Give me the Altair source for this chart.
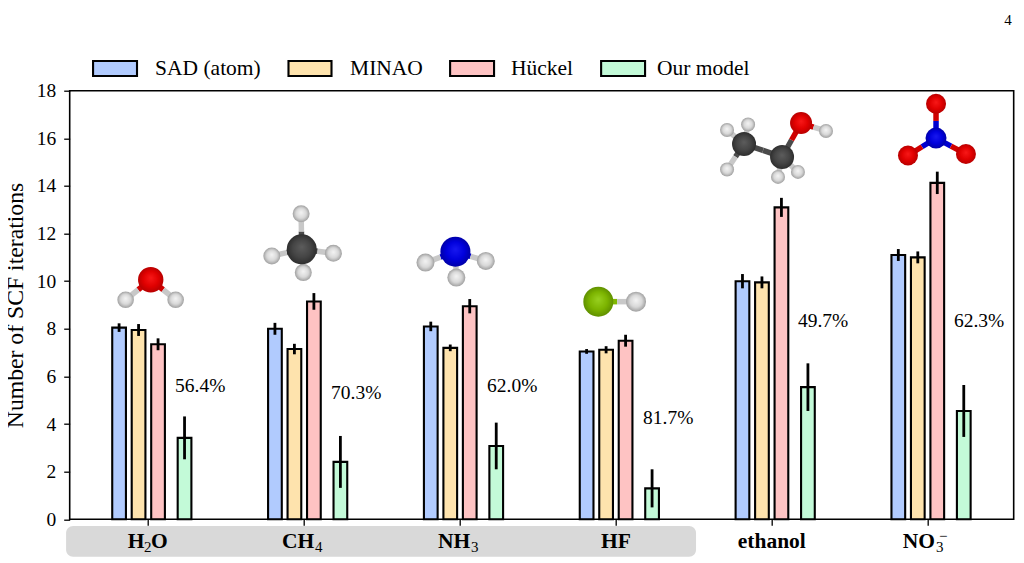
import altair as alt
import pandas as pd

FONT = "Liberation Serif"
molecules = ["H2O", "CH4", "NH3", "HF", "ethanol", "NO3-"]
methods = ["SAD (atom)", "MINAO", "Hückel", "Our model"]
colors = ["#b1cbfe", "#fee3ad", "#fec3c3", "#c3fad8"]

# bar values and half-length of error bars, per method
sad = [8.05, 8.0, 8.1, 7.05, 10.0, 11.1]
sad_err = [0.18, 0.25, 0.2, 0.1, 0.3, 0.25]
minao = [7.95, 7.15, 7.2, 7.12, 9.95, 11.0]
minao_err = [0.25, 0.22, 0.14, 0.15, 0.25, 0.25]
huckel = [7.35, 9.15, 8.95, 7.5, 13.1, 14.13]
huckel_err = [0.25, 0.35, 0.3, 0.25, 0.4, 0.47]
ours = [3.42, 2.41, 3.08, 1.3, 5.55, 4.55]
ours_err = [0.9, 1.09, 0.98, 0.8, 1.0, 1.09]
series = [(sad, sad_err), (minao, minao_err), (huckel, huckel_err), (ours, ours_err)]

# bar centre offsets from the group centre (group units), and bar width
offsets = [-0.186, -0.061, 0.064, 0.234]
bar_w = 0.088

pct_text = ["56.4%", "70.3%", "62.0%", "81.7%", "49.7%", "62.3%"]
pct_x = [0.173, 1.174, 2.175, 3.176, 4.170, 5.171]
pct_y = [5.6, 5.3, 5.6, 4.25, 8.33, 8.33]

bars = []
errs = []
for m, off, (vals, es) in zip(methods, offsets, series):
    for i, (v, e) in enumerate(zip(vals, es)):
        c = i + off
        bars.append(dict(method=m, x=c - bar_w / 2, x2=c + bar_w / 2, y=v))
        errs.append(dict(x=c, y=v - e, y2=v + e))
bars = pd.DataFrame(bars)
errs = pd.DataFrame(errs)
pcts = pd.DataFrame(dict(t=pct_text, x=pct_x, y=pct_y))

X_DOM = [-0.5029, 5.5543]
x_scale = alt.Scale(domain=X_DOM, nice=False, zero=False)
y_scale = alt.Scale(domain=[0, 18], nice=False)
color = alt.Color("method:N", scale=alt.Scale(domain=methods, range=colors), legend=None)

x_enc = alt.X("x:Q", scale=x_scale,
              axis=alt.Axis(values=list(range(6)), labels=False, title=None, grid=False,
                            tickColor="black", tickSize=6, tickWidth=1.3,
                            domain=False))
y_enc = alt.Y("y:Q", scale=y_scale,
              axis=alt.Axis(values=list(range(0, 19, 2)), title="Number of SCF iterations",
                            grid=False, tickColor="black", tickSize=6, tickWidth=1.3,
                            domain=False, labelFont=FONT, labelFontSize=19.5,
                            labelColor="black", labelPadding=8,
                            titleFont=FONT, titleFontSize=23.7, titleFontWeight="normal",
                            titleColor="black", titleX=-42.5, titleY=214.3))

# grey band behind the first four labels
band = pd.DataFrame(dict(x=[-0.526], x2=[3.516], y=[-0.281], y2=[-1.57]))
band_l = alt.Chart(band).mark_rect(fill="#d9d9d9", cornerRadius=7).encode(
    x=x_enc, x2="x2:Q", y=y_enc, y2="y2:Q")

bar_l = alt.Chart(bars).mark_bar(stroke="black", strokeWidth=2.1).encode(
    x=x_enc, x2="x2:Q", y=y_enc, y2=alt.Y2(datum=0), color=color)
err_l = alt.Chart(errs).mark_rule(color="black", strokeWidth=2.8).encode(
    x=alt.X("x:Q", scale=x_scale), y=alt.Y("y:Q", scale=y_scale), y2="y2:Q")
pct_l = alt.Chart(pcts).mark_text(font=FONT, fontSize=19.5, align="left", baseline="middle",
                                  color="black").encode(
    x=alt.X("x:Q", scale=x_scale), y=alt.Y("y:Q", scale=y_scale), text="t:N")

# legend, set out by hand to keep its uneven spacing
leg_x = [-0.353, 0.901, 1.938, 2.907]
leg_x2 = [-0.071, 1.177, 2.220, 3.189]
leg_tx = [0.045, 1.296, 2.329, 3.266]
leg = pd.DataFrame(dict(method=methods, x=leg_x, x2=leg_x2, y=[19.25] * 4, y2=[18.62] * 4,
                        tx=leg_tx, ty=[18.93] * 4))
leg_rect = alt.Chart(leg).mark_rect(stroke="black", strokeWidth=2.1).encode(
    x=alt.X("x:Q", scale=x_scale), x2="x2:Q",
    y=alt.Y("y:Q", scale=y_scale), y2="y2:Q", color=color)
leg_text = alt.Chart(leg).mark_text(font=FONT, fontSize=21.5, align="left", baseline="middle",
                                    color="black").encode(
    x=alt.X("tx:Q", scale=x_scale), y=alt.Y("ty:Q", scale=y_scale), text="method:N")

# x labels, with sub- and superscripts as separate pieces
main_t = ["H", "O", "CH", "NH", "HF", "ethanol", "NO"]
main_x = [-0.130, 0.019, 0.860, 1.861, 2.906, 3.784, 4.842]
sub_t = ["2", "4", "3", "3"]
sub_x = [-0.026, 1.071, 2.072, 5.056]
main_y = -1.205
sub_y = -1.373
main_df = pd.DataFrame(dict(t=main_t, x=main_x, y=[main_y] * len(main_t)))
sub_df = pd.DataFrame(dict(t=sub_t + ["−"], x=sub_x + [5.075], y=[sub_y] * 4 + [-0.91]))
main_l = alt.Chart(main_df).mark_text(font=FONT, fontSize=21.5, fontWeight="bold", align="left",
                                      baseline="alphabetic", color="black").encode(
    x=alt.X("x:Q", scale=x_scale), y=alt.Y("y:Q", scale=y_scale), text="t:N")
sub_l = alt.Chart(sub_df).mark_text(font=FONT, fontSize=15, align="left",
                                    baseline="alphabetic", color="black").encode(
    x=alt.X("x:Q", scale=x_scale), y=alt.Y("y:Q", scale=y_scale), text="t:N")

# ball-and-stick molecules
atoms = [
    ("O", 0.017, 10.06, 12.7), ("H", -0.144, 9.22, 8.3), ("H", 0.177, 9.22, 8.3),
    ("C", 0.986, 11.34, 15), ("H", 0.982, 12.83, 8.5), ("H", 0.794, 11.06, 8.5),
    ("H", 1.189, 11.17, 8.5), ("H", 0.996, 10.36, 8.5),
    ("N", 1.972, 11.24, 15), ("H", 1.780, 10.78, 9), ("H", 2.167, 10.85, 9),
    ("H", 1.978, 10.15, 9),
    ("F", 2.889, 9.14, 15), ("H", 3.131, 9.14, 10),
    ("C", 3.824, 15.76, 12), ("C", 4.068, 15.22, 12), ("O", 4.190, 16.64, 11),
    ("H", 4.350, 16.31, 7), ("H", 3.715, 16.35, 7), ("H", 3.850, 16.58, 7),
    ("H", 3.715, 14.69, 7), ("H", 4.042, 14.38, 7), ("H", 4.170, 14.59, 7),
    ("N", 5.056, 16.01, 10.5), ("O", 5.056, 17.45, 10), ("O", 4.876, 15.28, 10),
    ("O", 5.248, 15.34, 10),
]
bond_pairs = [(0, 1), (0, 2), (3, 4), (3, 5), (3, 6), (3, 7), (8, 9), (8, 10), (8, 11),
              (12, 13), (14, 15), (15, 16), (16, 17), (14, 18), (14, 19), (14, 20),
              (15, 21), (15, 22), (23, 24), (23, 25), (23, 26)]
bond_col = {"O": "#d00000", "H": "#c8c8c8", "C": "#4a4a4a", "N": "#0000d0", "F": "#7fb800"}
grad = {
    "O": ("#f81818", "#e00000", "#b80000"),
    "H": ("#f4f4f4", "#d8d8d8", "#a0a0a0"),
    "C": ("#5c5c5c", "#454545", "#2e2e2e"),
    "N": ("#1818f0", "#0000dc", "#0000a8"),
    "F": ("#98d020", "#7cb400", "#609000"),
}
atom_df = pd.DataFrame(atoms, columns=["el", "x", "y", "r"])
atom_df["s"] = (2 * atom_df["r"]) ** 2
rows = []
for a, b in bond_pairs:
    ea, xa, ya, _ = atoms[a]
    eb, xb, yb, _ = atoms[b]
    mx, my = (xa + xb) / 2, (ya + yb) / 2
    rows.append(dict(x=xa, y=ya, x2=mx, y2=my, el=ea))
    rows.append(dict(x=mx, y=my, x2=xb, y2=yb, el=eb))
bond_df = pd.DataFrame(rows)
bond_l = alt.Chart(bond_df).mark_rule(strokeWidth=5.5).encode(
    x=alt.X("x:Q", scale=x_scale), x2="x2:Q",
    y=alt.Y("y:Q", scale=y_scale), y2="y2:Q",
    color=alt.Color("el:N", scale=alt.Scale(domain=list(bond_col), range=list(bond_col.values())),
                    legend=None))
atom_ls = []
for el, (c0, c1, c2) in grad.items():
    g = alt.RadialGradient(gradient="radial", x1=0.5, y1=0.42, r1=0, x2=0.5, y2=0.5, r2=0.5,
                           stops=[alt.GradientStop(offset=0, color=c0),
                                  alt.GradientStop(offset=0.6, color=c1),
                                  alt.GradientStop(offset=1, color=c2)])
    atom_ls.append(
        alt.Chart(atom_df[atom_df.el == el]).mark_point(filled=True, shape="circle", opacity=1,
                                                        fill=g, strokeWidth=0).encode(
            x=alt.X("x:Q", scale=x_scale), y=alt.Y("y:Q", scale=y_scale),
            size=alt.Size("s:Q", scale=None, legend=None)))

page_no = alt.Chart(pd.DataFrame(dict(t=["4"], x=[5.518], y=[20.95]))).mark_text(
    font=FONT, fontSize=15, color="black", baseline="middle").encode(
    x=alt.X("x:Q", scale=x_scale), y=alt.Y("y:Q", scale=y_scale), text="t:N")

chart = alt.layer(band_l, bar_l, err_l, pct_l, leg_rect, leg_text, main_l, sub_l, bond_l,
                  *atom_ls, page_no).resolve_scale(color="independent").properties(
    width=944, height=428.6, background="white",
    autosize=alt.AutoSizeParams(type="none"),
    padding={"left": 61.7, "top": 82.7, "right": 2, "bottom": 38},
).configure_view(stroke="black", strokeWidth=1.6)

chart.save("out.html", embed_options={"renderer": "svg", "actions": False})
